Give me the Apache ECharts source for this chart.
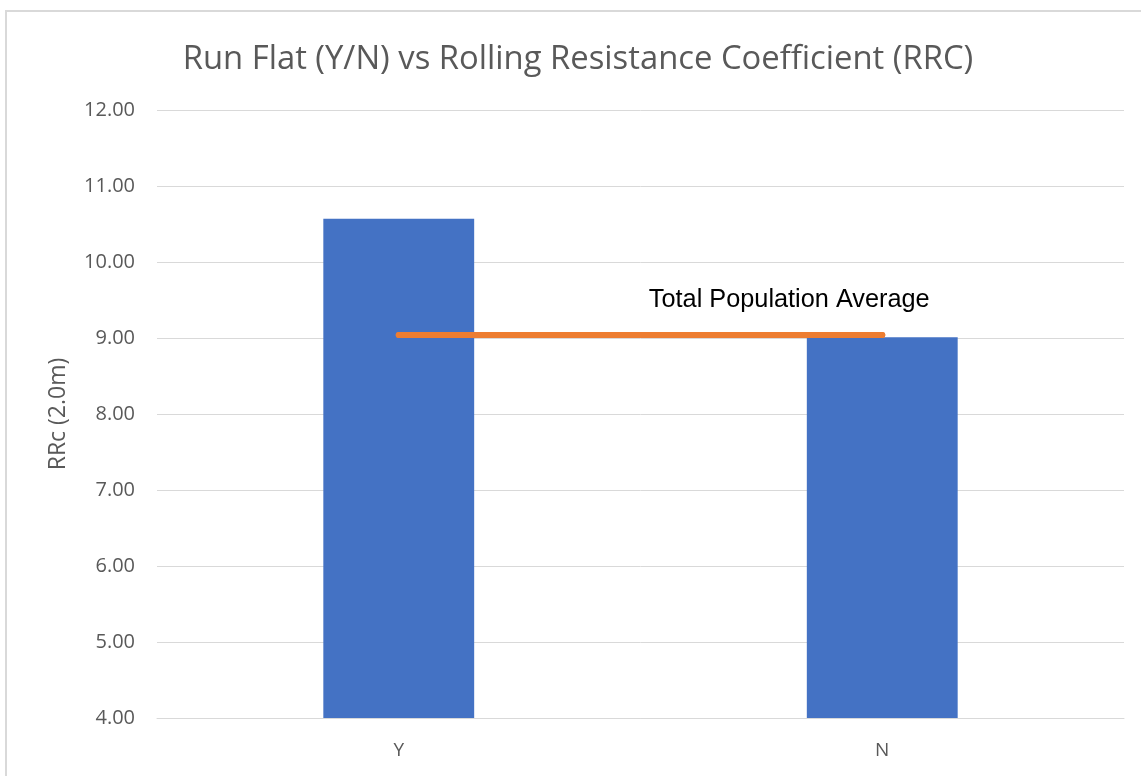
<!DOCTYPE html>
<html>
<head>
<meta charset="utf-8">
<script src="https://cdn.jsdelivr.net/npm/echarts@6/dist/echarts.min.js"></script>
<style>
html,body{margin:0;padding:0;background:#fff;}
#chart{width:1141px;height:776px;}
</style>
</head>
<body>
<div id="chart"></div>
<script>
const categories = ['Y', 'N'];
const rrcValues = [10.57, 9.01];
const populationAverage = [9.04, 9.04];
const averageLabel = 'Total Population Average';
const titleText = 'Run Flat (Y/N) vs Rolling Resistance Coefficient (RRC)';
const yAxisName = 'RRc (2.0m)';

const chart = echarts.init(document.getElementById('chart'));
const grey = '#595959';
const font = '"Open Sans", "Noto Sans", sans-serif';

chart.setOption({
  backgroundColor: '#fff',
  animation: false,
  graphic: [{
    type: 'rect',
    shape: { x: 6, y: 11, width: 1200, height: 820 },
    style: { fill: 'none', stroke: '#d9d9d9', lineWidth: 2 },
    silent: true
  }],
  title: {
    text: titleText,
    left: 573,
    textAlign: 'center',
    top: 38,
    textStyle: { fontFamily: font, fontSize: 32.8, fontWeight: 'normal', color: grey }
  },
  grid: { left: 157, right: 17, top: 110, bottom: 58 },
  xAxis: {
    type: 'category',
    data: categories,
    axisLine: { lineStyle: { color: '#d9d9d9', width: 1 } },
    axisTick: { show: false },
    axisLabel: { color: grey, fontFamily: font, fontSize: 19, margin: 23 }
  },
  yAxis: {
    type: 'value',
    min: 4,
    max: 12,
    interval: 1,
    name: yAxisName,
    nameLocation: 'middle',
    nameGap: 87,
    nameTextStyle: { color: grey, fontFamily: font, fontSize: 23 },
    axisLine: { show: false },
    axisTick: { show: false },
    axisLabel: {
      color: grey, fontFamily: font, fontSize: 20, margin: 22,
      formatter: v => v.toFixed(2)
    },
    splitLine: { lineStyle: { color: '#d9d9d9', width: 1 } }
  },
  series: [
    {
      type: 'bar',
      data: rrcValues,
      barWidth: '31.2%',
      itemStyle: { color: '#4472C4' }
    },
    {
      type: 'line',
      data: populationAverage.map((v, i) => i === populationAverage.length - 1 ? {
        value: v,
        label: {
          show: true,
          formatter: averageLabel,
          position: 'top',
          distance: 19,
          offset: [-93, 0],
          color: '#000',
          fontFamily: '"Liberation Sans", Arial, sans-serif',
          fontSize: 25.3
        }
      } : v),
      symbol: 'circle',
      symbolSize: 6,
      showSymbol: true,
      itemStyle: { color: '#ED7D31' },
      lineStyle: { color: '#ED7D31', width: 6, cap: 'round' },
      z: 5
    }
  ]
});
</script>
</body>
</html>
